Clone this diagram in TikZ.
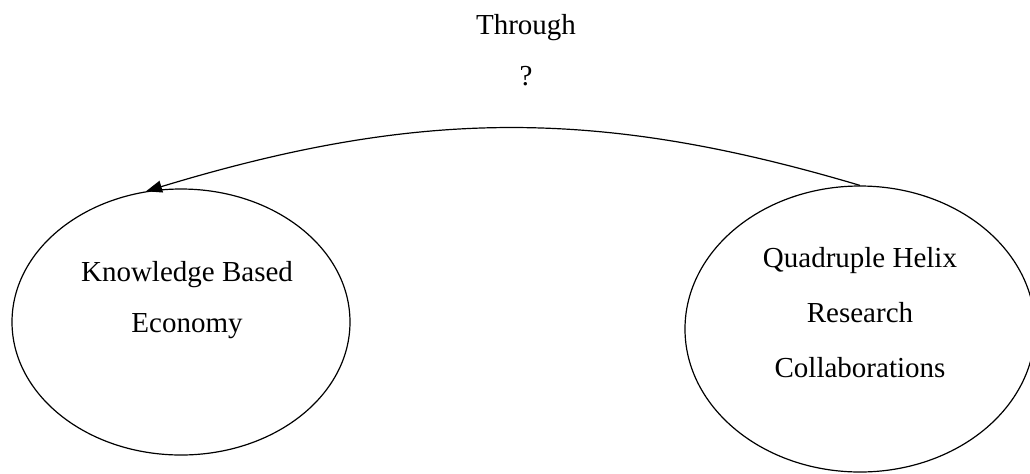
\documentclass[tikz,border=0pt]{standalone}
\usepackage{fontspec}
\setmainfont{Liberation Serif}
\usetikzlibrary{arrows.meta,shapes.geometric,calc}

\begin{document}
\begin{tikzpicture}[
  x=0.5pt, y=-0.5pt,
  every node/.style={font=\fontsize{14.5}{25.5}\selectfont},
  ell/.style={draw=black, ellipse, line width=0.6pt, inner sep=0pt},
  lbl/.style={align=center, inner sep=0pt},
  arr/.style={-{Triangle[length=8pt, width=6pt]}, line width=0.6pt}
]
\useasboundingbox (0,0) rectangle (1030,473);

\node[ell, minimum width=169pt, minimum height=133pt] (kbe) at (181,322) {};
\node[ell, minimum width=175pt, minimum height=143pt] (qhrc) at (860,329) {};

\node[lbl] (kbetext) at ($(kbe)+(6,-22)$) {Knowledge Based\\Economy};
\node[lbl, font=\fontsize{14.5}{27.5}\selectfont] (qhrctext) at ($(qhrc)+(0,-16)$) {Quadruple Helix\\Research\\Collaborations};

\draw[arr] (qhrc.north) .. controls (600,108) and (420,108) .. (kbe.105);

\node[lbl] (through) at (526,50) {Through\\?};
\end{tikzpicture}
\end{document}
